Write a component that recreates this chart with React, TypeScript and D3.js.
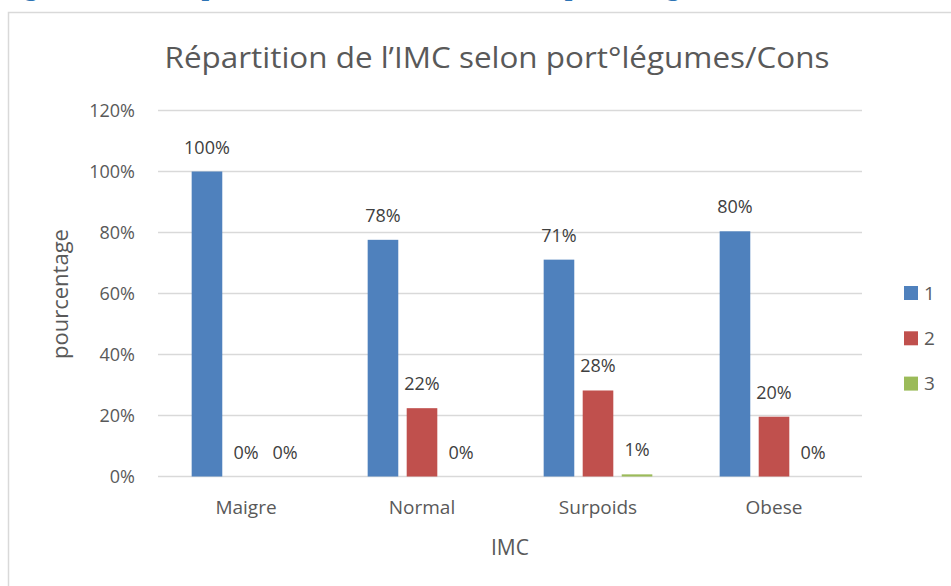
import * as d3 from "d3";

const categories = ["Maigre", "Normal", "Surpoids", "Obese"];
const seriesNames = ["1", "2", "3"];
const series1 = [100, 77.6, 71.1, 80.4];
const series2 = [0, 22.4, 28.2, 19.6];
const series3 = [0, 0, 0.7, 0];
const yTicks = [0, 20, 40, 60, 80, 100, 120];

const seriesValues = [series1, series2, series3];
const colors = ["#4f81bd", "#c0504d", "#9bbb59"];

const width = 951;
const height = 586;
const plot = { left: 158, right: 862, top: 110.5, bottom: 476.5 };
const font = '"Open Sans", "Noto Sans", sans-serif';

export default function App() {
  const x = d3
    .scaleBand<string>()
    .domain(categories)
    .range([plot.left, plot.right])
    .padding(0);

  // excel style: gap width 220%, overlap -27%
  const bw = x.bandwidth() / (3 + 2 * 0.275 + 2.2);
  const gap = bw * 0.275;
  const groupW = 3 * bw + 2 * gap;

  const y = d3.scaleLinear().domain([0, 120]).range([plot.bottom, plot.top]);

  return (
    <div style={{ position: "absolute", left: 0, top: 0 }}>
      <svg width={width} height={height} fontFamily={font}>
        <rect width={width} height={height} fill="white" />
        <text
          x={-6}
          y={-5}
          fontFamily='"Liberation Serif", serif'
          fontWeight={700}
          fontSize={27}
          fill="#2e74b5"
          textLength={840}
          lengthAdjust="spacing"
        >
          Figure 12 : Répartition de l'IMC selon port°légumes/Cons
        </text>
        <rect
          x={8.5}
          y={12.5}
          width={1000}
          height={1000}
          fill="white"
          stroke="#d9d9d9"
          strokeWidth={1.5}
        />
        <text
          x={497}
          y={68}
          textAnchor="middle"
          fontSize={29}
          fill="#595959"
          textLength={665}
          lengthAdjust="spacingAndGlyphs"
        >
          Répartition de l’IMC selon port°légumes/Cons
        </text>

        {yTicks.map((t) => (
          <g key={t}>
            <line
              x1={plot.left}
              x2={plot.right}
              y1={y(t)}
              y2={y(t)}
              stroke="#d9d9d9"
              strokeWidth={1.3}
            />
            <text
              x={135}
              y={y(t)}
              dy="0.36em"
              textAnchor="end"
              fontSize={18}
              fill="#595959"
            >
              {t}%
            </text>
          </g>
        ))}

        <text
          transform="translate(68,294) rotate(-90)"
          textAnchor="middle"
          fontSize={22}
          fill="#595959"
        >
          pourcentage
        </text>

        {categories.map((c, ci) => {
          const x0 = (x(c) ?? 0) + (x.bandwidth() - groupW) / 2;
          return (
            <g key={c}>
              {seriesValues.map((vals, si) => {
                const v = vals[ci];
                const bx = x0 + si * (bw + gap);
                return (
                  <g key={si}>
                    <rect
                      x={bx}
                      y={y(v)}
                      width={bw}
                      height={plot.bottom - y(v)}
                      fill={colors[si]}
                    />
                    <text
                      x={bx + bw / 2}
                      y={y(v) - 18}
                      textAnchor="middle"
                      fontSize={18}
                      fill="#404040"
                    >
                      {Math.round(v)}%
                    </text>
                  </g>
                );
              })}
              <text
                x={(x(c) ?? 0) + x.bandwidth() / 2}
                y={514}
                textAnchor="middle"
                fontSize={19}
                fill="#595959"
              >
                {c}
              </text>
            </g>
          );
        })}

        <text
          x={(plot.left + plot.right) / 2}
          y={555}
          textAnchor="middle"
          fontSize={21}
          fill="#595959"
        >
          IMC
        </text>

        {seriesNames.map((s, i) => (
          <g key={s} transform={`translate(904,${286 + i * 45.3})`}>
            <rect width={14} height={14} fill={colors[i]} />
            <text x={20} y={7} dy="0.36em" fontSize={19} fill="#595959">
              {s}
            </text>
          </g>
        ))}
      </svg>
    </div>
  );
}
